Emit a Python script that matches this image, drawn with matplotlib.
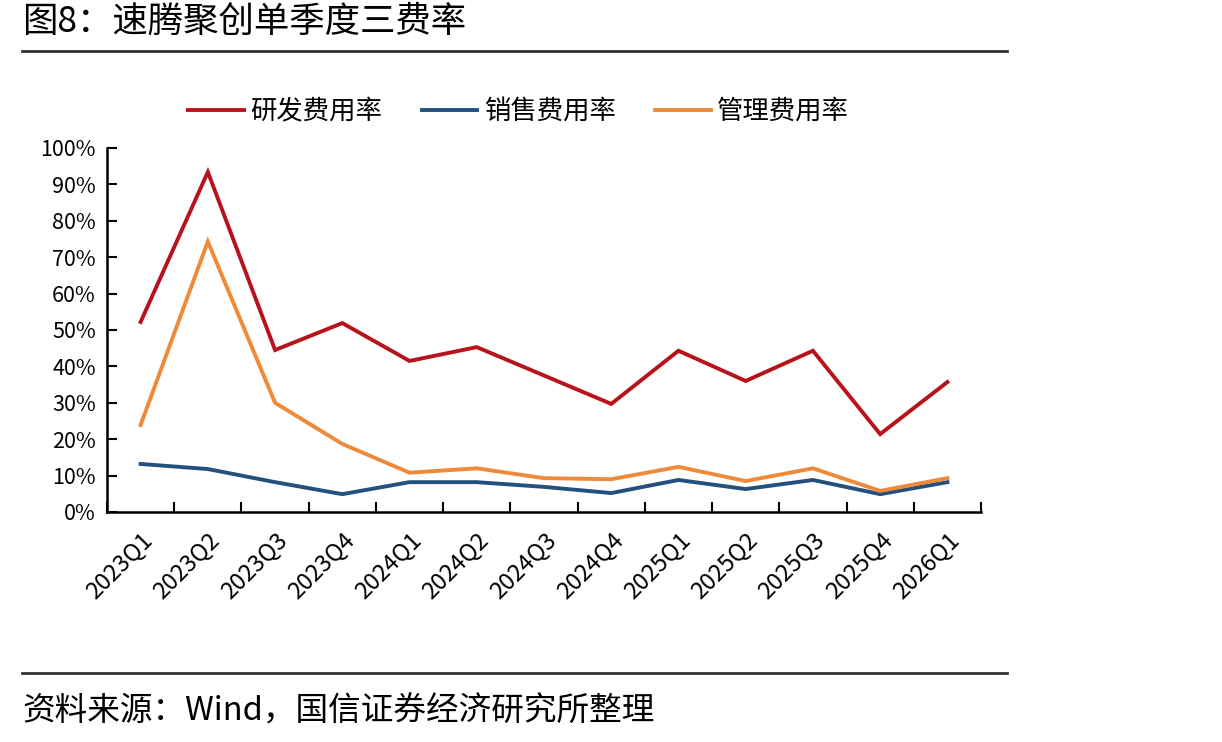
import matplotlib
matplotlib.use("Agg")
import matplotlib.pyplot as plt
import numpy as np

plt.rcParams['font.family'] = ['Noto Sans CJK SC', 'DejaVu Sans']

quarters = ['2023Q1', '2023Q2', '2023Q3', '2023Q4', '2024Q1', '2024Q2', '2024Q3',
            '2024Q4', '2025Q1', '2025Q2', '2025Q3', '2025Q4', '2026Q1']
rd_rate = [52.2, 93.4, 44.5, 51.9, 41.5, 45.3, 37.5, 29.7, 44.3, 36.0, 44.3, 21.4, 35.7]
sales_rate = [13.2, 11.8, 8.2, 4.9, 8.2, 8.2, 6.9, 5.2, 8.8, 6.3, 8.8, 4.9, 8.2]
admin_rate = [23.9, 74.3, 30.0, 18.7, 10.8, 12.0, 9.3, 9.0, 12.4, 8.5, 12.0, 5.8, 9.3]

names = ['研发费用率', '销售费用率', '管理费用率']
colors = ['#B8121B', '#24507D', '#EE8A3A']

fig = plt.figure(figsize=(12.22, 7.42), dpi=100)
ax = fig.add_axes([107 / 1222, 1 - 512 / 742, 874 / 1222, 364 / 742])

x = np.arange(len(quarters))
for vals, name, c in zip([rd_rate, sales_rate, admin_rate], names, colors):
    ax.plot(x, vals, color=c, lw=2.8, label=name, solid_joinstyle='miter')

ax.set_xlim(-0.5, len(quarters) - 0.5)
ax.set_ylim(0, 100)
ax.set_yticks(np.arange(0, 101, 10))
ax.set_yticklabels([f'{v}%' for v in range(0, 101, 10)], fontsize=15.5)
ax.set_xticks(x)
ax.set_xticklabels(quarters, rotation=45, ha='right', rotation_mode='anchor', fontsize=17)
ax.set_xticks(np.arange(-0.5, len(quarters), 1), minor=True)
ax.tick_params(axis='x', which='major', length=0, pad=12)
ax.tick_params(axis='x', which='minor', direction='in', length=7, width=1.5)
ax.tick_params(axis='y', direction='in', length=7, width=1.5, pad=8)

for s in ['top', 'right']:
    ax.spines[s].set_visible(False)
for s in ['left', 'bottom']:
    ax.spines[s].set_linewidth(1.8)
    ax.spines[s].set_color('black')

ax.legend(loc='center', bbox_to_anchor=(0.471, 1.10), ncol=3, frameon=False,
          fontsize=19, handlelength=2.1, handletextpad=0.25, columnspacing=1.5)

fig.text(22 / 1222, 1 - 22 / 742, '图8：速腾聚创单季度三费率', fontsize=25.5, va='center', ha='left')
fig.add_artist(plt.Line2D([22 / 1222, 1007 / 1222], [1 - 51 / 742] * 2, color='#333333', lw=2))
fig.add_artist(plt.Line2D([22 / 1222, 1007 / 1222], [1 - 673 / 742] * 2, color='#333333', lw=2))
fig.text(22 / 1222, 1 - 712 / 742, '资料来源：Wind，国信证券经济研究所整理', fontsize=23.5, va='center', ha='left')

fig.savefig('out.png', dpi=100)
